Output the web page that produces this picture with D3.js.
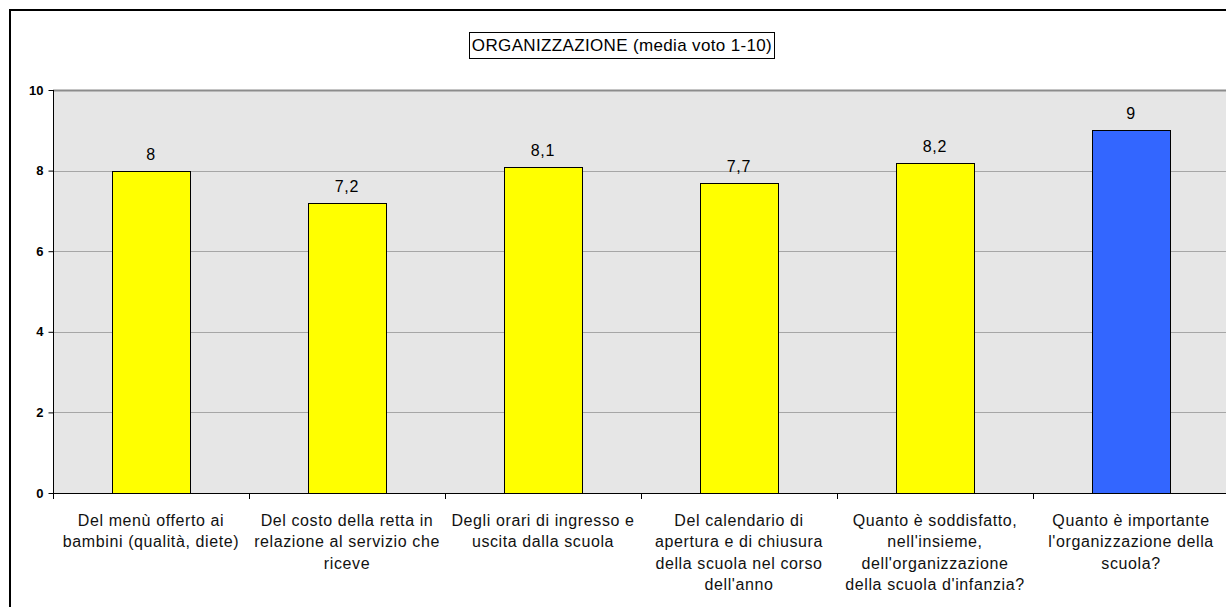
<!DOCTYPE html>
<html>
<head>
<meta charset="utf-8">
<script src="https://d3js.org/d3.v7.min.js"></script>
<style>
  html, body { margin: 0; padding: 0; background: #fff; }
  svg { display: block; }
  text { font-family: "Liberation Sans", Arial, sans-serif; }
</style>
</head>
<body>
<svg id="chart" width="1226" height="607"></svg>
<script>
const chartTitle = "ORGANIZZAZIONE (media voto 1-10)";
const categories = [
  "Del menù offerto ai\nbambini (qualità, diete)",
  "Del costo della retta in\nrelazione al servizio che\nriceve",
  "Degli orari di ingresso e\nuscita dalla scuola",
  "Del calendario di\napertura e di chiusura\ndella scuola nel corso\ndell'anno",
  "Quanto è soddisfatto,\nnell'insieme,\ndell'organizzazione\ndella scuola d'infanzia?",
  "Quanto è importante\nl'organizzazione della\nscuola?"
];
const values = [8, 7.2, 8.1, 7.7, 8.2, 9];
const valueLabels = ["8", "7,2", "8,1", "7,7", "8,2", "9"];
const barColors = ["#FFFF00", "#FFFF00", "#FFFF00", "#FFFF00", "#FFFF00", "#3366FF"];
const yTicks = [0, 2, 4, 6, 8, 10];

(function () {
const svg = d3.select("#chart");
const pLeft = 53, pTop = 90, pBottom = 493, pRight = 1229;

// outer chart border
svg.append("rect").attr("x", 10).attr("y", 10).attr("width", 1240).attr("height", 620)
  .attr("fill", "none").attr("stroke", "#000").attr("stroke-width", 2);

const x = d3.scaleBand().domain(categories).range([pLeft, pRight]).paddingInner(0.6).paddingOuter(0.3);
const y = d3.scaleLinear().domain([0, 10]).range([pBottom, pTop]);

// plot background
svg.append("rect").attr("x", pLeft).attr("y", pTop).attr("width", pRight - pLeft).attr("height", pBottom - pTop)
  .attr("fill", "#E6E6E6");

// gridlines
svg.append("g").selectAll("line").data(yTicks.filter(d => d > 0)).join("line")
  .attr("x1", pLeft).attr("x2", pRight)
  .attr("y1", d => Math.round(y(d)) + 0.5).attr("y2", d => Math.round(y(d)) + 0.5)
  .attr("stroke", d => d === 10 ? "#8C8C8C" : "#A6A6A6")
  .attr("stroke-width", d => d === 10 ? 2 : 1);

// bars
svg.append("g").selectAll("rect").data(values).join("rect")
  .attr("x", (d, i) => Math.round(x(categories[i])) + 0.5)
  .attr("y", d => Math.round(y(d)) + 0.5)
  .attr("width", Math.round(x.bandwidth()))
  .attr("height", d => Math.round(y(0)) - Math.round(y(d)))
  .attr("fill", (d, i) => barColors[i])
  .attr("stroke", "#000").attr("stroke-width", 1);

// value labels
svg.append("g").selectAll("text").data(values).join("text")
  .attr("x", (d, i) => x(categories[i]) + x.bandwidth() / 2)
  .attr("y", d => y(d) - 11)
  .attr("text-anchor", "middle")
  .attr("font-size", "16px").attr("letter-spacing", "0.8px").attr("fill", "#000")
  .text((d, i) => valueLabels[i]);

// y axis
const yAxis = d3.axisLeft(y).tickValues(yTicks).tickSize(5).tickPadding(5).tickFormat(d3.format("d"));
const gy = svg.append("g").attr("transform", `translate(${pLeft + 0.5},0)`).call(yAxis);
gy.select(".domain").attr("stroke", "#000").attr("d", `M0,${pTop}V${pBottom}`);
gy.selectAll(".tick line").attr("stroke", "#000");
gy.selectAll(".tick text").attr("font-size", "13px").attr("font-weight", "bold")
  .attr("font-family", "Liberation Sans, Arial, sans-serif").attr("fill", "#000");

// x axis: ticks at category boundaries
const boundaries = d3.range(categories.length + 1).map(i => pLeft + i * (pRight - pLeft) / categories.length);
const gx = svg.append("g");
gx.append("line").attr("x1", pLeft).attr("x2", pRight).attr("y1", pBottom + 0.5).attr("y2", pBottom + 0.5)
  .attr("stroke", "#000");
gx.selectAll("line.tk").data(boundaries).join("line").attr("class", "tk")
  .attr("x1", d => Math.round(d) + 0.5).attr("x2", d => Math.round(d) + 0.5)
  .attr("y1", pBottom).attr("y2", pBottom + 6).attr("stroke", "#000");

// category labels
const lbl = svg.append("g").selectAll("text").data(categories).join("text")
  .attr("text-anchor", "middle").attr("font-size", "16px").attr("letter-spacing", "0.6px")
  .attr("fill", "#111")
  .attr("x", d => x(d) + x.bandwidth() / 2).attr("y", 526);
lbl.each(function(d) {
  const t = d3.select(this);
  d.split("\n").forEach((line, i) => {
    t.append("tspan").attr("x", x(d) + x.bandwidth() / 2).attr("y", 526 + i * 21.3).text(line);
  });
});

// title box
svg.append("rect").attr("x", 469.5).attr("y", 32.5).attr("width", 305).attr("height", 26)
  .attr("fill", "#fff").attr("stroke", "#000").attr("stroke-width", 1);
svg.append("text").attr("x", 622).attr("y", 51).attr("text-anchor", "middle")
  .attr("font-size", "17px").attr("letter-spacing", "0.35px").attr("fill", "#000").text(chartTitle);
})();
</script>
</body>
</html>
